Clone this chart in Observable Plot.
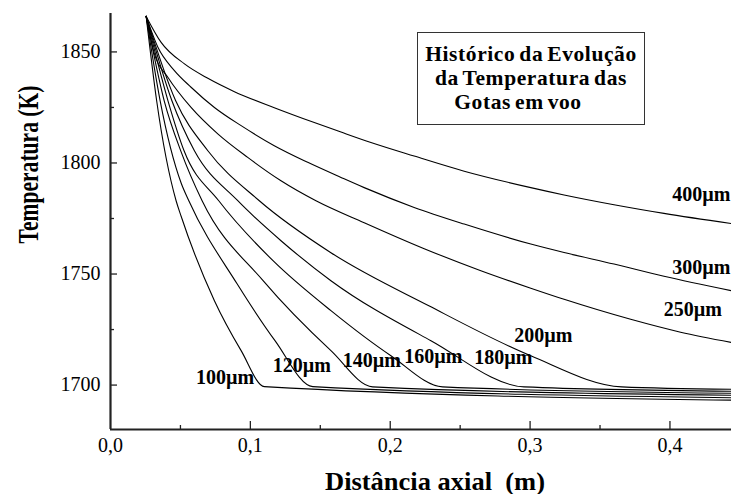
<!DOCTYPE html>
<html>
<head>
<meta charset="utf-8">
<script src="https://cdn.jsdelivr.net/npm/d3@7"></script>
<script src="https://cdn.jsdelivr.net/npm/@observablehq/plot@0.6"></script>
</head>
<body style="margin:0;padding:0;background:#fff;overflow:hidden;font-family:'Liberation Serif'">
<div id="wrap" style="position:relative;width:731px;height:494px;font-family:'Liberation Serif'">
  <div id="box" style="position:absolute;left:417px;top:32px;width:226px;height:91px;border:1px solid #333;background:#fff;font-family:'Liberation Serif';font-weight:bold;font-size:21.5px;letter-spacing:0.6px;word-spacing:-2px;color:#000;text-align:center;z-index:2">
    <div class="ln" style="margin-top:9px;height:24px;line-height:24px;white-space:nowrap;font-family:'Liberation Serif'">Histórico da Evolução</div>
    <div class="ln" style="height:24px;line-height:24px;white-space:nowrap;font-family:'Liberation Serif'">da Temperatura das</div>
    <div class="ln" style="height:24px;line-height:24px;white-space:nowrap;margin-right:26px;font-family:'Liberation Serif'">Gotas em voo</div>
  </div>
</div>
<script>
// ---- data (x = axial distance in m, t = temperature in K) ----
const sizes = ["100µm", "120µm", "140µm", "160µm", "180µm", "200µm", "250µm", "300µm", "400µm"];

const d100 = [[0.0255,1866],[0.0330,1828],[0.0469,1783],[0.0505,1776],[0.0743,1738],[0.0934,1715.5],[0.1100,1699.3],[0.444,1693.2]];
const d120 = [[0.0255,1866],[0.0355,1828],[0.0505,1791],[0.0560,1783],[0.0905,1745.6],[0.1176,1720],[0.1446,1699.3],[0.444,1694.3]];
const d140 = [[0.0255,1866],[0.0384,1828],[0.0505,1805],[0.0655,1783],[0.1091,1747],[0.1576,1715.5],[0.1874,1699.2],[0.444,1695.4]];
const d160 = [[0.0255,1866],[0.0411,1828],[0.0526,1805.5],[0.0774,1783],[0.1162,1756],[0.1576,1733.5],[0.2005,1713.2],[0.2374,1699.2],[0.444,1696.3]];
const d180 = [[0.0255,1866],[0.0439,1828],[0.0600,1805.5],[0.0910,1783],[0.1219,1765],[0.1576,1747],[0.2291,1720],[0.2957,1699.2],[0.444,1697.2]];
const d200 = [[0.0255,1866],[0.0466,1828],[0.0696,1805.5],[0.1064,1783],[0.1576,1759.6],[0.2276,1735.7],[0.3005,1713.2],[0.3655,1699.2],[0.444,1698.1]];
const d250 = [[0.0255,1866],[0.0314,1849.1],[0.0410,1838.6],[0.0576,1825],[0.0767,1813.1],[0.0981,1802.5],[0.1219,1792],[0.1469,1783],[0.1814,1773.1],[0.2243,1761.4],[0.2648,1751.5],[0.3005,1743.6],[0.3243,1738.6],[0.3719,1729.6],[0.4076,1723.8],[0.444,1719.2]];
const d300 = [[0.0255,1866],[0.0339,1852.1],[0.0457,1841.6],[0.0576,1834.1],[0.0743,1825],[0.0934,1816.8],[0.1171,1807.8],[0.1410,1800.3],[0.1648,1793.5],[0.1814,1788.9],[0.2171,1780],[0.2529,1772.5],[0.3005,1763.5],[0.3243,1759.7],[0.3600,1754.5],[0.3957,1749.0],[0.444,1742.5]];
const d400 = [[0.0255,1866],[0.0362,1854.3],[0.0529,1844.6],[0.0696,1838.1],[0.0886,1832.1],[0.1171,1824.9],[0.1457,1818.2],[0.1648,1813.9],[0.1862,1809.2],[0.2171,1803.1],[0.2529,1796.3],[0.3005,1788.9],[0.3243,1785.6],[0.3600,1781.2],[0.3957,1777.3],[0.444,1772.7]];

// label anchors (data units) for the curve labels
const labelX = [0.0612, 0.1160, 0.1660, 0.2100, 0.2600, 0.2886, 0.3955, 0.4017, 0.4017];
const labelT = [1700.5, 1706.1, 1708.2, 1709.9, 1709.7, 1719.6, 1731.2, 1750.0, 1783.0];

const xMajor = [0.1, 0.2, 0.3, 0.4];
const xMinor = [0.05, 0.15, 0.25, 0.35];
const xTickLabels = [0.0, 0.1, 0.2, 0.3, 0.4];
const yMajor = [1700, 1750, 1800, 1850];
const yMinor = [1725, 1775, 1825];

const xDomain = [0, 0.444];
const yDomain = [1680, 1867.3];
const xTitle = "Distância axial  (m)";
const yTitle = "Temperatura (K)";

// ---- build table ----
const series = [d100, d120, d140, d160, d180, d200, d250, d300, d400];
const rows = series.flatMap((arr, i) => arr.map(([x, t]) => ({size: sizes[i], x, t})));
const labels = sizes.map((s, i) => ({size: s, x: labelX[i], t: labelT[i]}));

const W = 731, H = 494, mL = 110, mR = 0, mT = 13, mB = 65;
const frameH = H - mT - mB, frameW = W - mL - mR;
const fam = "'Liberation Serif'";
const comma = d => d.toFixed(1).replace(".", ",");

const chart = Plot.plot({
  width: W, height: H,
  marginLeft: mL, marginRight: mR, marginTop: mT, marginBottom: mB,
  x: {domain: xDomain, axis: null},
  y: {domain: yDomain, axis: null},
  style: {fontFamily: fam, background: "transparent", color: "#000", overflow: "visible"},
  marks: [
    Plot.line(rows, {x: "x", y: "t", z: "size", stroke: "#000", strokeWidth: 1.1, curve: "monotone-x"}),
    // axis lines
    Plot.ruleX([xDomain[0]], {stroke: "#222", strokeWidth: 2.2}),
    Plot.ruleY([yDomain[0]], {stroke: "#222", strokeWidth: 2.2}),
    // ticks (inward)
    Plot.ruleX(xMajor, {x: d => d, insetTop: frameH - 8, stroke: "#222", strokeWidth: 1.3}),
    Plot.ruleX(xMinor, {x: d => d, insetTop: frameH - 4, stroke: "#222", strokeWidth: 1.3}),
    Plot.ruleY(yMajor, {y: d => d, insetRight: frameW - 7, stroke: "#222", strokeWidth: 1.3}),
    Plot.ruleY(yMinor, {y: d => d, insetRight: frameW - 4, stroke: "#222", strokeWidth: 1.3}),
    // tick labels
    Plot.text(yMajor, {y: d => d, frameAnchor: "left", text: d => String(d), textAnchor: "end", dx: -10,
      fontSize: 20, fill: "#000", letterSpacing: 0.8}),
    Plot.text(xTickLabels, {x: d => d, frameAnchor: "bottom", text: comma, lineAnchor: "bottom", dy: 22,
      fontSize: 20, fill: "#000", letterSpacing: 2}),
    // axis titles
    Plot.text([xTitle], {frameAnchor: "bottom", text: d => d, dx: 14, dy: 60, lineAnchor: "bottom",
      fontSize: 25, fontWeight: "bold", fill: "#000"}),
    Plot.text([yTitle], {frameAnchor: "left", text: d => d, rotate: -90, dx: -82, dy: 22,
      fontSize: 30, fontWeight: "bold", fill: "#000"}),
    // curve labels
    Plot.text(labels, {x: "x", y: "t", text: "size", textAnchor: "start", lineAnchor: "bottom",
      fontSize: 20, fontWeight: "bold", fill: "#000", letterSpacing: 0.6})
  ]
});

// serif face on every text (inline, important) and condensed axis titles
d3.select(chart).selectAll("text").each(function() {
  this.style.setProperty("font-family", fam, "important");
  const s = this.textContent;
  if (s === yTitle) { this.setAttribute("textLength", 158); this.setAttribute("lengthAdjust", "spacingAndGlyphs"); }
  if (s === xTitle) { this.setAttribute("textLength", 220); this.setAttribute("lengthAdjust", "spacingAndGlyphs"); }
});
document.querySelectorAll("#box, #box .ln").forEach(el => el.style.setProperty("font-family", fam, "important"));

document.getElementById("wrap").prepend(chart);
chart.style.position = "absolute";
chart.style.left = "0px";
chart.style.top = "0px";
if (document.fonts && document.fonts.load) {
  document.fonts.load("20px 'Liberation Serif'");
  document.fonts.load("bold 20px 'Liberation Serif'");
}
</script>
</body>
</html>
